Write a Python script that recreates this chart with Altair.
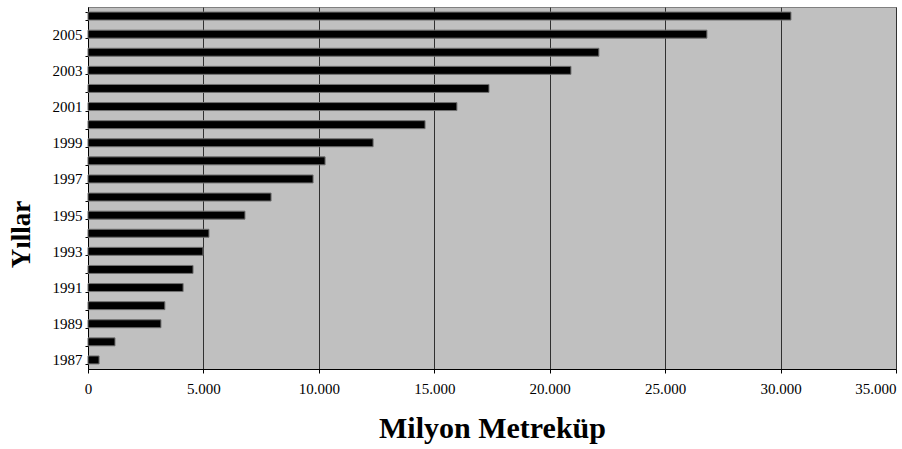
import altair as alt
import pandas as pd

years = list(range(1987, 2007))
values = [480, 1170, 3160, 3330, 4120, 4550, 4980, 5240, 6800, 7930,
          9750, 10270, 12350, 14600, 15980, 17370, 20920, 22130, 26810, 30450]
x_ticks = [0, 5000, 10000, 15000, 20000, 25000, 30000, 35000]

df = pd.DataFrame({"Yil": years, "Deger": values})

FONT = "Liberation Serif"

chart = alt.Chart(df).mark_bar(
    color="black", stroke="#707070", strokeWidth=1
).encode(
    x=alt.X("Deger:Q",
            scale=alt.Scale(domain=[0, 35000], nice=False),
            axis=alt.Axis(
                values=x_ticks,
                title="Milyon Metreküp",
                titleFont=FONT, titleFontSize=30, titleFontWeight="bold",
                titleColor="black", titleX=404, titleY=68,
                titleBaseline="alphabetic",
                labelFont=FONT, labelFontSize=15, labelColor="black",
                labelExpr="replace(format(datum.value, ','), ',', '.')",
                labelAlign={"condition": {"test": "datum.value >= 35000", "value": "right"},
                            "value": "center"},
                labelPadding=8, tickSize=4, tickColor="black",
                domainColor="black", grid=True, gridColor="#303030",
                gridWidth=1, labelFlush=False,
            )),
    y=alt.Y("Yil:O",
            sort="descending",
            scale=alt.Scale(paddingInner=0.56, paddingOuter=0.28),
            axis=alt.Axis(
                title="Yıllar",
                titleFont=FONT, titleFontSize=27, titleFontWeight="bold",
                titleColor="black", titleX=-67, titleY=227,
                titleAngle=-90, titleAlign="center", titleBaseline="middle",
                labelFont=FONT, labelFontSize=15, labelColor="black",
                labelExpr="datum.value % 2 == 1 ? datum.value : ''",
                labelPadding=3, tickSize=3, tickColor="black",
                tickBand="extent", domainColor="black", grid=False,
            )),
).properties(
    width=808, height=362,
    autosize=alt.AutoSizeParams(type="none"),
    padding={"left": 88, "top": 7, "right": 6, "bottom": 80},
    background="white",
).configure_view(
    fill="#C0C0C0", stroke="#808080", strokeWidth=1
)

chart.save("out.html", embed_options={"renderer": "svg", "actions": False})
